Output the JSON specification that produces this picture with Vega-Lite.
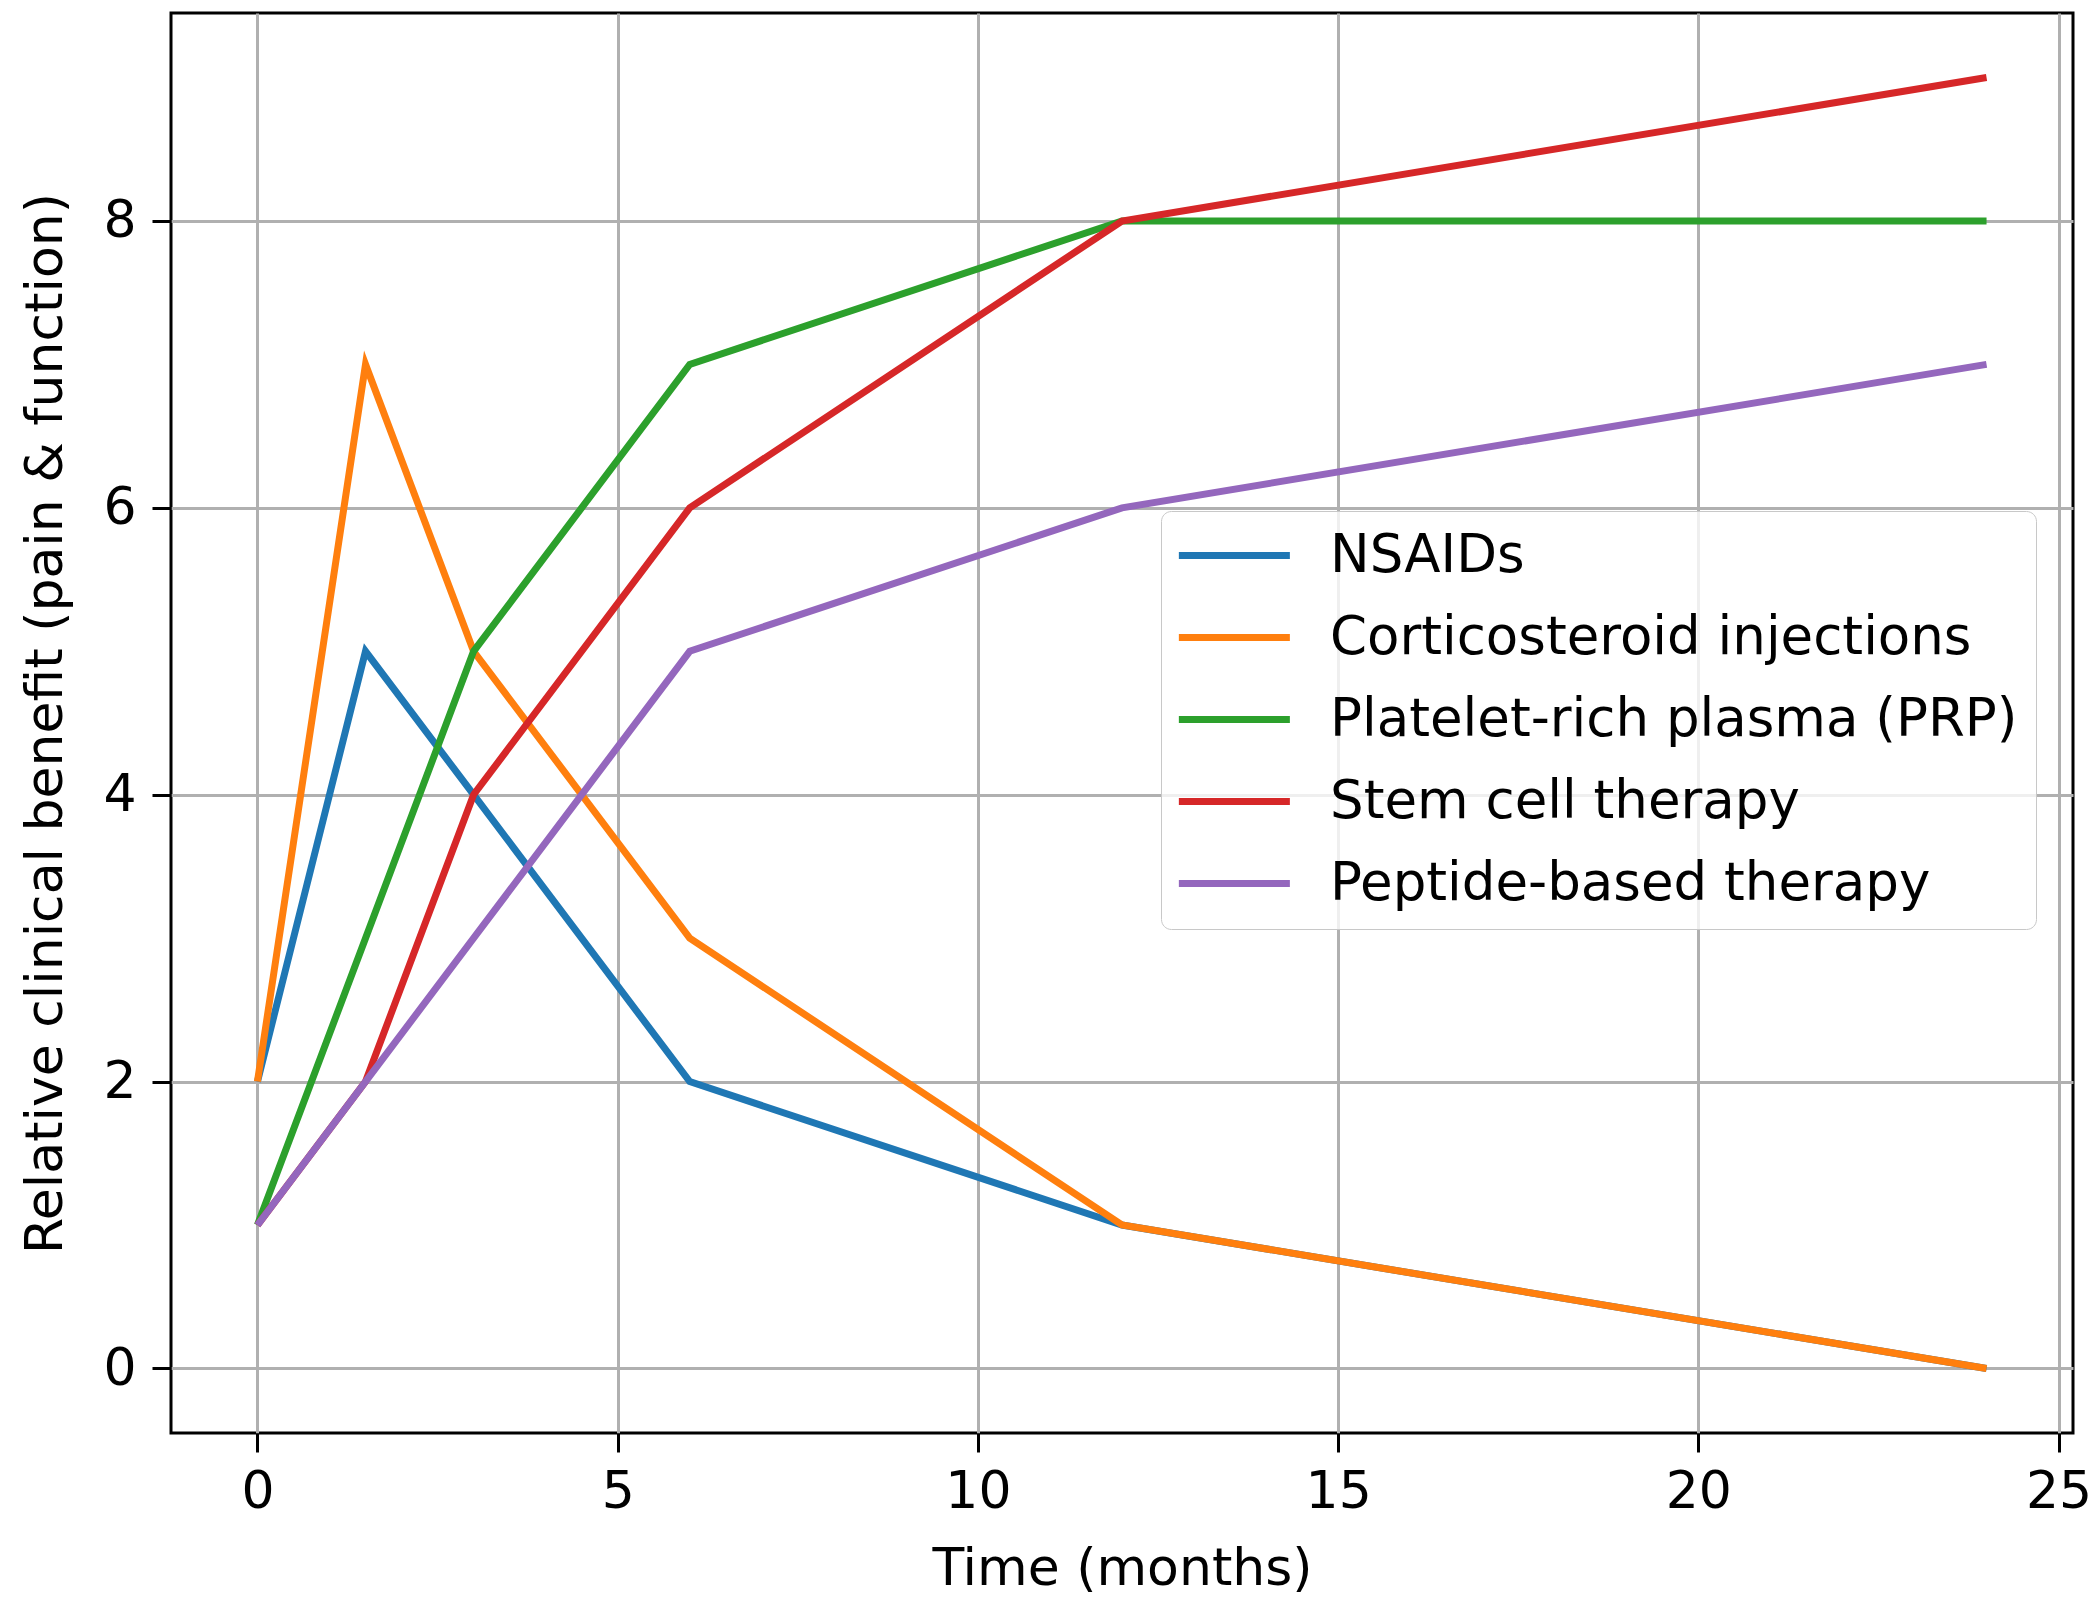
{
  "$schema": "https://vega.github.io/schema/vega-lite/v6.json",
  "width": 1902,
  "height": 1420,
  "autosize": {"type": "none"},
  "padding": {"left": 171, "top": 13, "right": 27, "bottom": 174},
  "background": "white",
  "config": {
    "font": "DejaVu Sans",
    "view": {"stroke": "black", "strokeWidth": 3},
    "axis": {
      "labelFont": "DejaVu Sans",
      "titleFont": "DejaVu Sans",
      "labelFontSize": 52,
      "titleFontSize": 52,
      "labelColor": "#000000",
      "titleColor": "#000000",
      "titleFontWeight": "normal",
      "domain": false,
      "grid": true,
      "gridColor": "#b0b0b0",
      "gridWidth": 3,
      "tickColor": "#000000",
      "tickWidth": 3,
      "tickSize": 19
    },
    "legend": {
      "labelFont": "DejaVu Sans",
      "labelFontSize": 53,
      "labelColor": "#000000",
      "labelLimit": 1000
    }
  },
  "data": {
    "values": [
      {"therapy": "NSAIDs", "month": 0, "benefit": 2},
      {"therapy": "NSAIDs", "month": 1.5, "benefit": 5},
      {"therapy": "NSAIDs", "month": 3, "benefit": 4},
      {"therapy": "NSAIDs", "month": 6, "benefit": 2},
      {"therapy": "NSAIDs", "month": 12, "benefit": 1},
      {"therapy": "NSAIDs", "month": 24, "benefit": 0},
      {"therapy": "Corticosteroid injections", "month": 0, "benefit": 2},
      {"therapy": "Corticosteroid injections", "month": 1.5, "benefit": 7},
      {"therapy": "Corticosteroid injections", "month": 3, "benefit": 5},
      {"therapy": "Corticosteroid injections", "month": 6, "benefit": 3},
      {"therapy": "Corticosteroid injections", "month": 12, "benefit": 1},
      {"therapy": "Corticosteroid injections", "month": 24, "benefit": 0},
      {"therapy": "Platelet-rich plasma (PRP)", "month": 0, "benefit": 1},
      {"therapy": "Platelet-rich plasma (PRP)", "month": 1.5, "benefit": 3},
      {"therapy": "Platelet-rich plasma (PRP)", "month": 3, "benefit": 5},
      {"therapy": "Platelet-rich plasma (PRP)", "month": 6, "benefit": 7},
      {"therapy": "Platelet-rich plasma (PRP)", "month": 12, "benefit": 8},
      {"therapy": "Platelet-rich plasma (PRP)", "month": 24, "benefit": 8},
      {"therapy": "Stem cell therapy", "month": 0, "benefit": 1},
      {"therapy": "Stem cell therapy", "month": 1.5, "benefit": 2},
      {"therapy": "Stem cell therapy", "month": 3, "benefit": 4},
      {"therapy": "Stem cell therapy", "month": 6, "benefit": 6},
      {"therapy": "Stem cell therapy", "month": 12, "benefit": 8},
      {"therapy": "Stem cell therapy", "month": 24, "benefit": 9},
      {"therapy": "Peptide-based therapy", "month": 0, "benefit": 1},
      {"therapy": "Peptide-based therapy", "month": 1.5, "benefit": 2},
      {"therapy": "Peptide-based therapy", "month": 3, "benefit": 3},
      {"therapy": "Peptide-based therapy", "month": 6, "benefit": 5},
      {"therapy": "Peptide-based therapy", "month": 12, "benefit": 6},
      {"therapy": "Peptide-based therapy", "month": 24, "benefit": 7}
    ]
  },
  "mark": {"type": "line", "strokeWidth": 7, "strokeJoin": "miter"},
  "encoding": {
    "x": {
      "field": "month",
      "type": "quantitative",
      "scale": {"domain": [-1.2, 25.2], "nice": false, "zero": false},
      "axis": {"title": "Time (months)", "values": [0, 5, 10, 15, 20, 25], "labelPadding": 14, "titlePadding": 26}
    },
    "y": {
      "field": "benefit",
      "type": "quantitative",
      "scale": {"domain": [-0.45, 9.45], "nice": false, "zero": false},
      "axis": {"title": "Relative clinical benefit (pain & function)", "values": [0, 2, 4, 6, 8], "labelPadding": 16, "titlePadding": 30}
    },
    "color": {
      "field": "therapy",
      "type": "nominal",
      "sort": ["NSAIDs", "Corticosteroid injections", "Platelet-rich plasma (PRP)", "Stem cell therapy", "Peptide-based therapy"],
      "scale": {
        "domain": ["NSAIDs", "Corticosteroid injections", "Platelet-rich plasma (PRP)", "Stem cell therapy", "Peptide-based therapy"],
        "range": ["#1f77b4", "#ff7f0e", "#2ca02c", "#d62728", "#9467bd"]
      },
      "legend": {
        "title": null,
        "orient": "none",
        "legendX": 990,
        "legendY": 498,
        "symbolType": "M-2.4,0H7.6",
        "symbolSize": 493,
        "symbolStrokeWidth": 7,
        "labelOffset": 98,
        "rowPadding": 28,
        "padding": 18,
        "fillColor": "rgba(255,255,255,0.8)",
        "strokeColor": "#c8c8c8",
        "cornerRadius": 10
      }
    }
  }
}
